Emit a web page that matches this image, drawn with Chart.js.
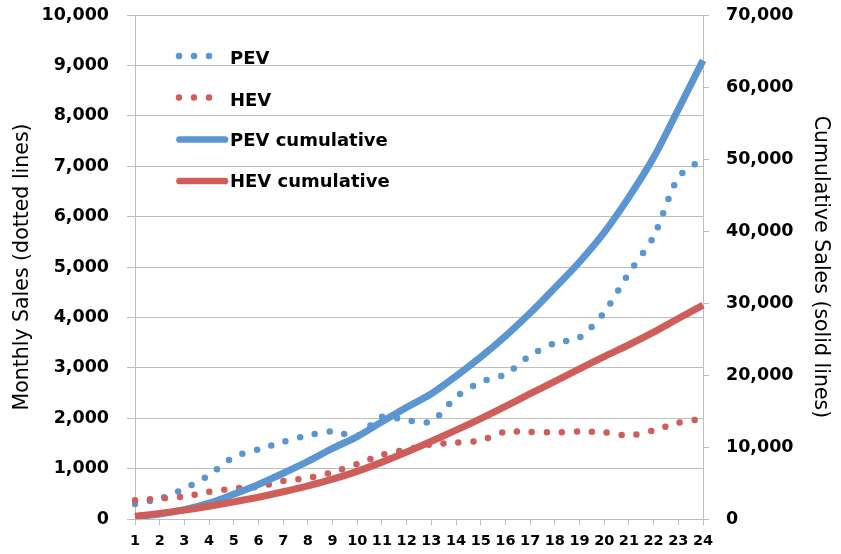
<!DOCTYPE html>
<html>
<head>
<meta charset="utf-8">
<script src="https://cdn.jsdelivr.net/npm/chart.js@4.4.1/dist/chart.umd.min.js"></script>
<style>
  html, body { margin: 0; padding: 0; background: #ffffff; }
  #wrap { position: relative; width: 841px; height: 554px; }
</style>
</head>
<body>
<div id="wrap"><canvas id="c" width="841" height="554"></canvas></div>
<script>
// ---- data ----
const months = ['1','2','3','4','5','6','7','8','9','10','11','12','13','14','15','16','17','18','19','20','21','22','23','24'];
const pevMonthly = [300, 400, 600, 870, 1230, 1380, 1530, 1660, 1740, 1650, 2030, 1960, 1930, 2420, 2720, 2870, 3245, 3490, 3600, 4100, 4880, 5600, 6780, 7150];
const hevMonthly = [370, 405, 445, 540, 605, 640, 755, 815, 930, 1090, 1270, 1380, 1480, 1515, 1560, 1730, 1728, 1718, 1735, 1720, 1653, 1760, 1910, 1990];
const pevCumulative = [300, 700, 1300, 2200, 3450, 4800, 6350, 8000, 9800, 11450, 13500, 15500, 17400, 19850, 22500, 25400, 28600, 32100, 35700, 39800, 44700, 50200, 56900, 63700];
const hevCumulative = [370, 780, 1230, 1770, 2380, 3020, 3780, 4600, 5530, 6620, 7900, 9300, 10800, 12350, 13950, 15650, 17400, 19100, 20850, 22550, 24200, 25950, 27850, 29700];
const seriesLabels = ['PEV', 'HEV', 'PEV cumulative', 'HEV cumulative'];
const leftAxisTitle = 'Monthly Sales (dotted lines)';
const rightAxisTitle = 'Cumulative Sales (solid lines)';
const leftMax = 10000, leftStep = 1000;
const rightMax = 70000, rightStep = 10000;

// ---- style ----
const BLUE = '#5b96d0';
const RED = '#cf5e5a';
const GRID = '#bdbdbd';
const FONT = 'DejaVu Sans';

const fmt = v => Number(v).toLocaleString('en-US');

const legendPlugin = {
  id: 'insideLegend',
  afterDraw(chart) {
    const ctx = chart.ctx;
    const rows = [56, 97.5, 139.5, 181];
    const textX = 230;
    ctx.save();
    chart.data.datasets.forEach((ds, i) => {
      const y = rows[i];
      ctx.strokeStyle = ds.borderColor;
      ctx.lineCap = 'round';
      if (ds.borderDash && ds.borderDash.length) {
        ctx.lineWidth = ds.borderWidth;
        ctx.setLineDash([0, 15]);
        ctx.beginPath();
        ctx.moveTo(179, y);
        ctx.lineTo(210, y);
        ctx.stroke();
      } else {
        ctx.lineWidth = 6.7;
        ctx.setLineDash([]);
        ctx.beginPath();
        ctx.moveTo(179.5, y);
        ctx.lineTo(225, y);
        ctx.stroke();
      }
      ctx.setLineDash([]);
      ctx.fillStyle = '#000';
      ctx.font = 'bold 18px "' + FONT + '"';
      ctx.textBaseline = 'middle';
      ctx.textAlign = 'left';
      ctx.fillText(ds.label, textX, y + (i < 2 ? 3.5 : 1.5));
    });
    ctx.restore();
  }
};

const bgPlugin = {
  id: 'bg',
  beforeDraw(chart) {
    const ctx = chart.ctx;
    ctx.save();
    ctx.fillStyle = '#fff';
    ctx.fillRect(0, 0, chart.width, chart.height);
    ctx.restore();
  }
};

new Chart(document.getElementById('c'), {
  type: 'line',
  data: {
    labels: months,
    datasets: [
      { label: seriesLabels[0], data: pevMonthly, yAxisID: 'y', borderColor: BLUE, borderWidth: 6.5,
        borderDash: [0, 15], borderCapStyle: 'round', pointRadius: 0, tension: 0.25, order: 3 },
      { label: seriesLabels[1], data: hevMonthly, yAxisID: 'y', borderColor: RED, borderWidth: 6.5,
        borderDash: [0, 15], borderCapStyle: 'round', pointRadius: 0, tension: 0.25, order: 2 },
      { label: seriesLabels[2], data: pevCumulative, yAxisID: 'y2', borderColor: BLUE, borderWidth: 7,
        pointRadius: 0, tension: 0.3, order: 1 },
      { label: seriesLabels[3], data: hevCumulative, yAxisID: 'y2', borderColor: RED, borderWidth: 7,
        pointRadius: 0, tension: 0.3, order: 0 }
    ]
  },
  options: {
    responsive: false,
    animation: false,
    layout: { padding: { top: 15, left: 0, right: 0, bottom: 0 } },
    plugins: { legend: { display: false }, tooltip: { enabled: false } },
    scales: {
      x: {
        type: 'category',
        offset: false,
        grid: { drawOnChartArea: false, color: GRID, tickLength: 6 },
        border: { color: GRID },
        ticks: { color: '#000', font: { family: FONT, size: 14.5, weight: 'bold' }, padding: 8, maxRotation: 0, autoSkip: false },
        afterFit(s) { s.height = 35; s.paddingLeft = 0; s.paddingRight = 0; }
      },
      y: {
        position: 'left',
        min: 0, max: leftMax,
        grid: { color: GRID, tickLength: 8 },
        border: { color: GRID },
        ticks: { stepSize: leftStep, color: '#000', font: { family: FONT, size: 17.5, weight: 'bold' }, padding: 18, callback: v => fmt(v) },
        title: { display: true, text: leftAxisTitle, color: '#000', font: { family: FONT, size: 20.5 }, padding: { top: 10, bottom: 0 } },
        afterFit(s) { s.width = 135; s.paddingTop = 0; s.paddingBottom = 0; }
      },
      y2: {
        position: 'right',
        min: 0, max: rightMax,
        grid: { drawOnChartArea: false, color: GRID, tickLength: 6 },
        border: { color: GRID },
        ticks: { stepSize: rightStep, color: '#000', font: { family: FONT, size: 17.5, weight: 'bold' }, padding: 17, callback: v => fmt(v) },
        title: { display: true, text: rightAxisTitle, color: '#000', font: { family: FONT, size: 20.5 }, padding: { top: 8, bottom: 0 } },
        afterFit(s) { s.width = 138; s.paddingTop = 0; s.paddingBottom = 0; }
      }
    }
  },
  plugins: [bgPlugin, legendPlugin]
});
</script>
</body>
</html>
